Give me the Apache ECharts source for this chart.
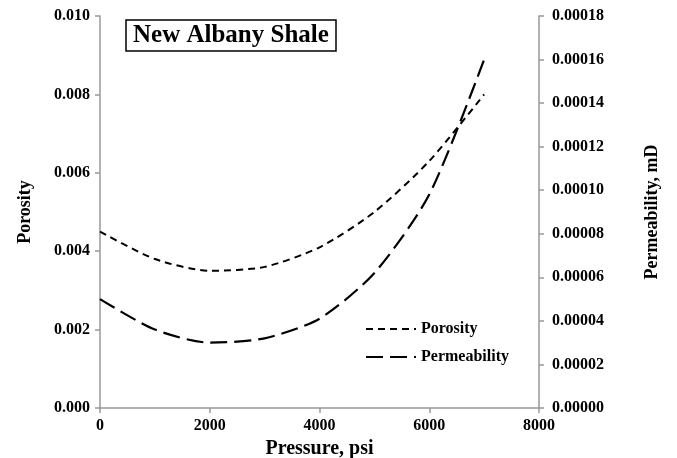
<!DOCTYPE html>
<html><head><meta charset="utf-8">
<script src="https://cdn.jsdelivr.net/npm/echarts@6/dist/echarts.min.js"></script>
<style>html,body{margin:0;padding:0;background:#fff}#c{width:677px;height:458px}</style>
</head><body><div id="c"></div>
<script>
const pressure = [0, 1000, 2000, 3000, 4000, 5000, 6000, 7000];
const porosity = [0.0045, 0.0038, 0.0035, 0.0036, 0.0041, 0.0050, 0.0063, 0.0080];
const permeability = [0.000050, 0.000036, 0.000030, 0.000032, 0.000041, 0.000062, 0.000098, 0.000160];
const titleText = 'New Albany Shale';

const FONT = '"Liberation Serif","Times New Roman",serif';
const chart = echarts.init(document.getElementById('c'));
const axisLabel = {color:'#000', fontFamily:FONT, fontWeight:'bold', fontSize:16};
const axisLine = {show:true, lineStyle:{color:'#999', width:1.5}};
const axisTick = {show:true, length:5, lineStyle:{color:'#999', width:1.5}};
chart.setOption({
  animation:false,
  title:{text:titleText, left:126, top:20, borderColor:'#000', borderWidth:1.5, padding:[3,7,3,7],
    textStyle:{fontFamily:FONT, fontWeight:'bold', fontSize:25, color:'#000'}},
  grid:{left:100, right:138, top:16, bottom:50, containLabel:false, outerBoundsMode:'none'},
  legend:{orient:'vertical', left:360, top:316, itemWidth:50, itemHeight:10, itemGap:12,
    itemStyle:{opacity:0},
    textStyle:{fontFamily:FONT, fontWeight:'bold', fontSize:16, color:'#000'},
    data:['Porosity','Permeability']},
  xAxis:{type:'value', min:0, max:8000, interval:2000, name:'Pressure, psi', nameLocation:'middle', nameGap:29,
    nameTextStyle:{fontFamily:FONT, fontWeight:'bold', fontSize:20, color:'#000'},
    axisLine, axisTick, splitLine:{show:false},
    axisLabel:Object.assign({}, axisLabel, {margin:10, formatter:v=>String(v)})},
  yAxis:[
    {type:'value', min:0, max:0.010, interval:0.002, position:'left', name:'Porosity', nameLocation:'middle', nameGap:66,
      nameTextStyle:{fontFamily:FONT, fontWeight:'bold', fontSize:18, color:'#000'},
      axisLine, axisTick, splitLine:{show:false},
      axisLabel:Object.assign({}, axisLabel, {margin:10, formatter:v=>v.toFixed(3)})},
    {type:'value', min:0, max:0.00018, interval:0.00002, position:'right', name:'Permeability, mD', nameLocation:'middle', nameGap:104, nameRotate:90,
      nameTextStyle:{fontFamily:FONT, fontWeight:'bold', fontSize:18, color:'#000'},
      axisLine, axisTick, splitLine:{show:false},
      axisLabel:Object.assign({}, axisLabel, {margin:13, formatter:v=>v.toFixed(5)})}
  ],
  series:[
    {name:'Porosity', type:'line', yAxisIndex:0, smooth:0.25, symbol:'none',
      data:pressure.map((p,i)=>[p, porosity[i]]),
      lineStyle:{color:'#000', width:2, type:[7,5]}, itemStyle:{color:'#000'}},
    {name:'Permeability', type:'line', yAxisIndex:1, smooth:0.25, symbol:'none',
      data:pressure.map((p,i)=>[p, permeability[i]]),
      lineStyle:{color:'#000', width:2.2, type:[17,7]}, itemStyle:{color:'#000'}}
  ]
});
</script></body></html>
